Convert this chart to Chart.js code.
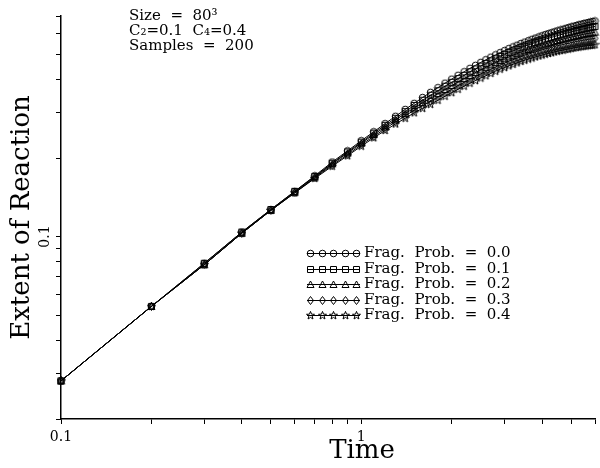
<!DOCTYPE html>
<html>
<head>
<meta charset="utf-8">
<script src="https://cdn.jsdelivr.net/npm/chart.js@4.4.1/dist/chart.umd.min.js"></script>
<style>
  html, body { margin: 0; padding: 0; background: #fff; }
</style>
</head>
<body>
<canvas id="grafico" width="600" height="468"></canvas>
<script>
// tiempos de muestreo (paso 0.1)
const tiempos = [0.1, 0.2, 0.3, 0.4, 0.5, 0.6, 0.7, 0.8, 0.9, 1.0,
                 1.1, 1.2, 1.3, 1.4, 1.5, 1.6, 1.7, 1.8, 1.9, 2.0,
                 2.1, 2.2, 2.3, 2.4, 2.5, 2.6, 2.7, 2.8, 2.9, 3.0,
                 3.1, 3.2, 3.3, 3.4, 3.5, 3.6, 3.7, 3.8, 3.9, 4.0,
                 4.1, 4.2, 4.3, 4.4, 4.5, 4.6, 4.7, 4.8, 4.9, 5.0,
                 5.1, 5.2, 5.3, 5.4, 5.5, 5.6, 5.7, 5.8, 5.9, 6.0];

// extension de la reaccion para cada probabilidad de fragmentacion
const prob00 = [0.028, 0.054, 0.079, 0.104, 0.127, 0.149, 0.171, 0.193, 0.213, 0.233,
                0.252, 0.271, 0.289, 0.307, 0.324, 0.341, 0.357, 0.372, 0.387, 0.401,
                0.415, 0.428, 0.441, 0.453, 0.465, 0.476, 0.487, 0.497, 0.507, 0.516,
                0.525, 0.533, 0.541, 0.549, 0.556, 0.563, 0.570, 0.576, 0.582, 0.588,
                0.594, 0.599, 0.604, 0.609, 0.614, 0.619, 0.623, 0.628, 0.632, 0.636,
                0.640, 0.644, 0.648, 0.651, 0.655, 0.658, 0.661, 0.664, 0.667, 0.670];
const prob01 = [0.028, 0.054, 0.079, 0.104, 0.127, 0.149, 0.170, 0.191, 0.211, 0.230,
                0.249, 0.267, 0.284, 0.301, 0.318, 0.333, 0.348, 0.362, 0.377, 0.390,
                0.403, 0.415, 0.428, 0.439, 0.450, 0.460, 0.471, 0.480, 0.490, 0.498,
                0.507, 0.514, 0.522, 0.529, 0.536, 0.542, 0.548, 0.554, 0.560, 0.565,
                0.571, 0.575, 0.580, 0.584, 0.589, 0.593, 0.597, 0.601, 0.605, 0.608,
                0.612, 0.616, 0.619, 0.622, 0.625, 0.628, 0.631, 0.633, 0.636, 0.638];
const prob02 = [0.028, 0.054, 0.078, 0.103, 0.126, 0.148, 0.169, 0.190, 0.209, 0.228,
                0.246, 0.263, 0.280, 0.296, 0.311, 0.326, 0.339, 0.353, 0.366, 0.379,
                0.391, 0.403, 0.414, 0.425, 0.435, 0.445, 0.455, 0.464, 0.473, 0.480,
                0.488, 0.495, 0.502, 0.509, 0.515, 0.521, 0.527, 0.532, 0.537, 0.542,
                0.547, 0.551, 0.555, 0.560, 0.564, 0.568, 0.571, 0.575, 0.578, 0.581,
                0.584, 0.587, 0.590, 0.593, 0.596, 0.598, 0.600, 0.602, 0.604, 0.607];
const prob03 = [0.028, 0.054, 0.078, 0.103, 0.126, 0.147, 0.168, 0.188, 0.206, 0.225,
                0.242, 0.259, 0.275, 0.290, 0.305, 0.318, 0.330, 0.343, 0.355, 0.367,
                0.379, 0.390, 0.401, 0.410, 0.420, 0.429, 0.438, 0.447, 0.455, 0.462,
                0.470, 0.476, 0.483, 0.489, 0.495, 0.500, 0.505, 0.510, 0.515, 0.519,
                0.524, 0.527, 0.531, 0.535, 0.538, 0.542, 0.544, 0.548, 0.550, 0.553,
                0.556, 0.559, 0.561, 0.563, 0.566, 0.567, 0.570, 0.571, 0.573, 0.575];
const prob04 = [0.028, 0.054, 0.078, 0.103, 0.126, 0.147, 0.167, 0.186, 0.204, 0.222,
                0.239, 0.255, 0.270, 0.284, 0.298, 0.310, 0.321, 0.333, 0.345, 0.356,
                0.367, 0.377, 0.387, 0.396, 0.405, 0.413, 0.422, 0.430, 0.438, 0.444,
                0.451, 0.457, 0.463, 0.469, 0.474, 0.479, 0.483, 0.488, 0.492, 0.496,
                0.500, 0.503, 0.506, 0.510, 0.513, 0.516, 0.518, 0.521, 0.523, 0.525,
                0.528, 0.530, 0.532, 0.534, 0.536, 0.537, 0.539, 0.540, 0.541, 0.543];

const etiquetas = ['Frag.  Prob.  =  0.0', 'Frag.  Prob.  =  0.1', 'Frag.  Prob.  =  0.2',
                   'Frag.  Prob.  =  0.3', 'Frag.  Prob.  =  0.4'];
const marcadores = ['circulo', 'cuadrado', 'triangulo', 'rombo', 'estrella'];

// marcas de los ejes (solo algunas llevan numero)
const ticksX = [0.1, 0.2, 0.3, 0.4, 0.5, 0.6, 0.7, 0.8, 0.9, 1, 2, 3, 4, 5, 6];
const ticksY = [0.02, 0.03, 0.04, 0.05, 0.06, 0.07, 0.08, 0.09, 0.1, 0.2, 0.3, 0.4, 0.5, 0.6, 0.7];
const numerosX = [0.1, 1];
const numerosY = [0.1];

const textoInfo = ['Size  =  80\u00b3', 'C\u2082=0.1  C\u2084=0.4', 'Samples  =  200'];

const fuente = '"DejaVu Serif", "Liberation Serif", serif';

// dibuja cada marcador en un canvas chico para usarlo como pointStyle
function crearMarcador(tipo) {
    const c = document.createElement('canvas');
    c.width = 9;
    c.height = 9;
    const g = c.getContext('2d');
    g.strokeStyle = '#000';
    g.lineWidth = 1;
    g.beginPath();
    if (tipo === 'circulo') {
        g.arc(4.5, 4.5, 3.3, 0, Math.PI * 2);
    } else if (tipo === 'cuadrado') {
        g.rect(1.5, 1.5, 6, 6);
    } else if (tipo === 'triangulo') {
        g.moveTo(4.5, 1);
        g.lineTo(8, 7.5);
        g.lineTo(1, 7.5);
        g.closePath();
    } else if (tipo === 'rombo') {
        g.moveTo(4.5, 0.5);
        g.lineTo(7.5, 4.5);
        g.lineTo(4.5, 8.5);
        g.lineTo(1.5, 4.5);
        g.closePath();
    } else {
        for (let k = 0; k < 10; k++) {
            const r = k % 2 === 0 ? 4.2 : 1.8;
            const a = -Math.PI / 2 + k * Math.PI / 5;
            const px = 4.5 + r * Math.cos(a);
            const py = 4.6 + r * Math.sin(a);
            if (k === 0) g.moveTo(px, py); else g.lineTo(px, py);
        }
        g.closePath();
    }
    g.stroke();
    return c;
}

function mismoValor(lista, v) {
    return lista.some(n => Math.abs(n - v) < 1e-9);
}

const series = [prob00, prob01, prob02, prob03, prob04];

const datasets = series.map((serie, i) => ({
    label: etiquetas[i],
    data: tiempos.map((t, j) => ({ x: t, y: serie[j] })),
    borderColor: '#000',
    borderWidth: 1,
    backgroundColor: 'transparent',
    pointStyle: crearMarcador(marcadores[i]),
    pointRadius: 4,
    tension: 0,
    clip: false
}));

// textos sueltos: datos de la simulacion, leyenda y titulo del eje x
const textosExtra = {
    id: 'textosExtra',
    afterDraw(chart) {
        const ctx = chart.ctx;
        ctx.save();
        ctx.fillStyle = '#000';
        ctx.strokeStyle = '#000';
        ctx.textBaseline = 'middle';
        ctx.font = '15px ' + fuente;
        textoInfo.forEach((t, i) => ctx.fillText(t, 129, 16 + i * 15));

        chart.data.datasets.forEach((ds, i) => {
            const y = Math.round(253 + i * 15.6);
            ctx.lineWidth = 1;
            ctx.beginPath();
            ctx.moveTo(307, y + 0.5);
            ctx.lineTo(360, y + 0.5);
            ctx.stroke();
            for (let k = 0; k < 5; k++) {
                ctx.drawImage(ds.pointStyle, Math.round(310 + k * 11.5) - 4, y - 4);
            }
            ctx.fillText(ds.label, 364, y);
        });

        ctx.font = '26px ' + fuente;
        ctx.textAlign = 'center';
        ctx.fillText('Time', 362, 451);
        ctx.restore();
    }
};

const ctx = document.getElementById('grafico');

new Chart(ctx, {
    type: 'line',
    data: { datasets: datasets },
    plugins: [textosExtra],
    options: {
        responsive: false,
        animation: false,
        layout: { padding: { top: 16, right: 4, left: 0, bottom: 0 } },
        plugins: {
            legend: { display: false },
            tooltip: { enabled: false }
        },
        scales: {
            x: {
                type: 'logarithmic',
                min: 0.1,
                max: 6,
                afterBuildTicks: scale => { scale.ticks = ticksX.map(v => ({ value: v })); },
                afterFit: scale => { scale.height = 49; },
                grid: { drawOnChartArea: false, drawTicks: true, tickLength: 5, color: '#000' },
                border: { display: true, color: '#000', width: 1.5 },
                ticks: {
                    autoSkip: false,
                    maxRotation: 0,
                    padding: 5,
                    color: '#000',
                    font: { family: fuente, size: 14 },
                    callback: v => mismoValor(numerosX, v) ? String(v) : ''
                }
            },
            y: {
                type: 'logarithmic',
                min: 0.02,
                max: 0.7,
                afterBuildTicks: scale => { scale.ticks = ticksY.map(v => ({ value: v })); },
                afterFit: scale => { scale.width = 61; },
                grid: { drawOnChartArea: false, drawTicks: true, tickLength: 5, color: '#000' },
                border: { display: true, color: '#000', width: 1.5 },
                title: {
                    display: true,
                    text: 'Extent of Reaction',
                    color: '#000',
                    font: { family: fuente, size: 26, weight: 'normal' },
                    padding: { top: 7, bottom: 0 }
                },
                ticks: {
                    autoSkip: false,
                    minRotation: 90,
                    maxRotation: 90,
                    crossAlign: 'center',
                    padding: 0,
                    color: '#000',
                    font: { family: fuente, size: 14 },
                    callback: v => mismoValor(numerosY, v) ? String(v) : ''
                }
            }
        }
    }
});
</script>
</body>
</html>
